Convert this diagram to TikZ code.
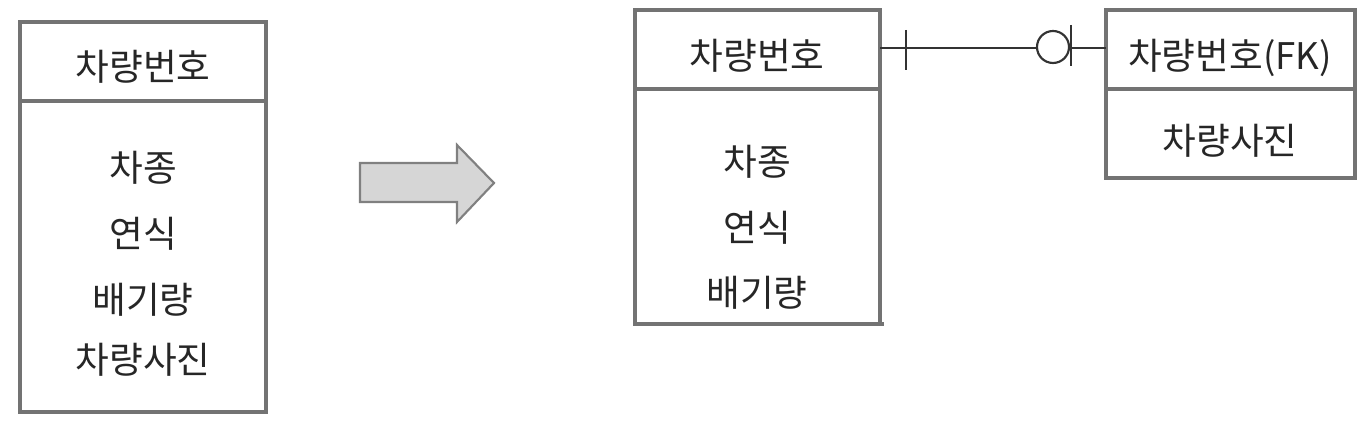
\documentclass[tikz,border=0pt]{standalone}
\usepackage{fontspec}
\setmainfont{Noto Sans CJK KR}
\begin{document}
\begin{tikzpicture}[x=0.75pt,y=-0.75pt,
  boxline/.style={draw=black!55,line width=2.3pt},
  label/.style={font=\fontsize{27.5}{32}\selectfont,text=black!85,inner sep=0pt,anchor=center},
  relline/.style={draw=black!80,line width=1.6pt},
  bigarrow/.style={draw=black!50,fill=black!16,line width=1.6pt,line join=miter}]
\useasboundingbox (0,0) rectangle (1371,427);
% left entity
\draw[boxline] (20,22) rectangle (266,412);
\draw[boxline] (20,101) -- (266,101);
\node[label] (lh) at (143,67) {차량번호};
\node[label] (l1) at (143,168) {차종};
\node[label] (l2) at (143,234) {연식};
\node[label] (l3) at (143,300) {배기량};
\node[label] (l4) at (143,360) {차량사진};
% arrow
\draw[bigarrow] (360,163) -- (457,163) -- (457,145) -- (494,183) -- (457,222) -- (457,202) -- (360,202) -- cycle;
% middle entity
\draw[boxline] (635,10) rectangle (880,324);
\draw[boxline] (635,89) -- (880,89);
\draw[draw=black!55,line width=3pt] (633,324) -- (884,324);
\node[label] (mh) at (757,56) {차량번호};
\node[label] (m1) at (757,162) {차종};
\node[label] (m2) at (757,228) {연식};
\node[label] (m3) at (757,293) {배기량};
% right entity
\draw[boxline] (1106,10) rectangle (1355,178);
\draw[boxline] (1106,89) -- (1355,89);
\node[label] (rh) at (1230,58) {차량번호(FK)};
\node[label] (r1) at (1230,141) {차량사진};
% relationship
\coordinate (mE) at (880,48);
\coordinate (rW) at (1106,48);
\coordinate (c0) at (1053,47);
\draw[relline] (mE) -- (rW);
\draw[relline] (906,30) -- (906,70);
\draw[relline,fill=white] (c0) circle[radius=12pt];
\draw[relline] (1071,25) -- (1071,66);
\end{tikzpicture}
\end{document}
